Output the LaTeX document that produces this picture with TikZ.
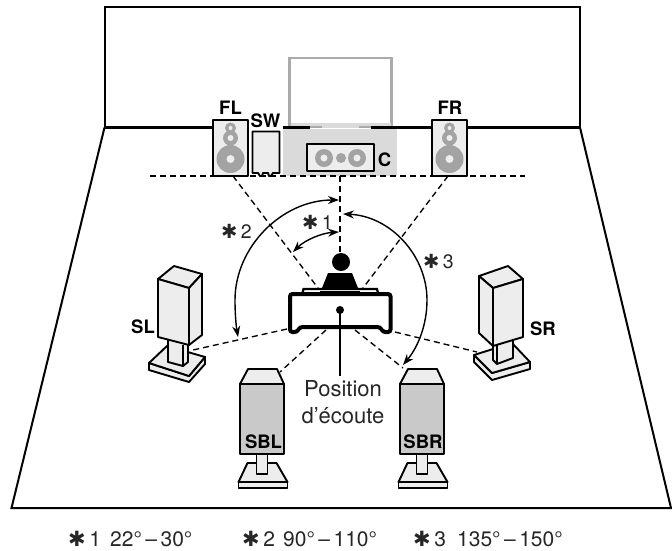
\documentclass[tikz,border=0pt]{standalone}
\usepackage{fontspec}
\setmainfont{TeX Gyre Heros}
\newfontfamily\asterfont{DejaVu Sans}
\usetikzlibrary{arrows.meta}
\newcommand{\aster}{{\asterfont ✱}}
\definecolor{facegray}{HTML}{EDEDED}
\definecolor{glyphgray}{HTML}{A3A3A3}
\definecolor{cabgray}{HTML}{DADADA}
\definecolor{midgray}{HTML}{C9C9C9}
\definecolor{framegray}{HTML}{ABABAB}
\definecolor{textgray}{HTML}{262626}
\tikzset{
  wall/.style={line width=2pt,black},
  box/.style={line width=1.9pt,black,line join=round,fill=facegray},
  dashline/.style={line width=1.35pt,dash pattern=on 6pt off 4pt},
  arcline/.style={line width=1.4pt,{Stealth[length=11pt,width=8pt]}-{Stealth[length=11pt,width=8pt]}},
  bold label/.style={font=\fontsize{18.5}{18.5}\selectfont\bfseries,inner sep=0pt,anchor=base},
  angle label/.style={font=\fontsize{19.5}{19.5}\selectfont,text=textgray,inner sep=0pt,anchor=base west},
  legend label/.style={font=\fontsize{21}{21}\selectfont,text=textgray,inner sep=0pt,anchor=base west}
}
\newcommand{\floorspk}[1]{%
  \begin{scope}[shift={(#1,0)}]
    \draw[box] (-17.5,120) rectangle (17.5,176);
    \fill[glyphgray] (0,159) circle (14pt) (0,138) circle (7.5pt) (0,128) circle (5.5pt);
    \fill[facegray] (0,159) circle (4pt) (0,138) circle (3pt) (0,128) circle (2pt);
  \end{scope}}
\newcommand{\rearspk}[1]{%
  \begin{scope}[shift={(#1,0)}]
    \draw[box] (-23.5,482) -- (-14.5,463) -- (14.5,463) -- (25.5,482) -- cycle;
    \draw[box] (-23.5,482) rectangle (25.5,488);
    \draw[box] (-5.5,450) rectangle (5.5,474);
    \draw[box] (-22,384) -- (-14,369) -- (15,369) -- (22,384) -- cycle;
    \draw[box,fill=midgray] (-22,384) rectangle (22,454);
  \end{scope}}
\begin{document}
\begin{tikzpicture}[x=1pt,y=-1pt]
\useasboundingbox (0,0) rectangle (672,550);
% room
\coordinate (wtl) at (104.5,6.5); \coordinate (wtr) at (580,6.5);
\coordinate (wbl) at (104.5,127.5); \coordinate (wbr) at (580,127.5);
\coordinate (fbl) at (11.5,508); \coordinate (fbr) at (671,508);
\draw[wall,line join=miter] (wbl) -- (wtl) -- (wtr) -- (wbr);
\draw[wall,line join=miter] (wbl) -- (fbl) -- (fbr) -- (wbr);
\draw[line width=2.4pt] (wbl) -- (wbr);
% TV and cabinet
\fill[white] (213,112) rectangle (467,129);
\draw[line width=2.6pt,framegray,fill=white] (289.5,58) rectangle (391.5,127);
\fill[cabgray] (290.5,122.5) rectangle (390.5,128);
\draw[line width=2.4pt] (283,127.5) -- (310,127.5);
\draw[line width=2.4pt] (371,127.5) -- (432,127.5);
\fill[framegray] (310,126) rectangle (322,128);
\fill[framegray] (359,126) rectangle (371,128);
\fill[cabgray] (283,128.5) rectangle (397,176);
\draw[box] (307,144) rectangle (374,171);
\fill[glyphgray] (324,158) circle (9pt) (341,158) circle (5pt) (357,158) circle (9pt);
\fill[facegray] (324,158) circle (3.5pt) (357,158) circle (3.5pt);
% front speakers
\floorspk{230.5}
\floorspk{449.5}
\draw[box] (252.5,131.5) -- (279.5,131.5) -- (279.5,173) -- (273,173) -- (271,176) -- (269,176) -- (268,173) -- (263,173) -- (262,176) -- (260,176) -- (258,173) -- (252.5,173) -- cycle;
% dashed geometry
\coordinate (base l) at (150,176); \coordinate (base r) at (525,176);
\coordinate (c top) at (340,176); \coordinate (c bot) at (340,256);
\coordinate (fl a) at (233,176); \coordinate (fl b) at (318,288);
\coordinate (fr a) at (448,176); \coordinate (fr b) at (363,288);
\coordinate (sl a) at (287,329); \coordinate (sl b) at (193,350);
\coordinate (sr a) at (395,332); \coordinate (sr b) at (477,352);
\coordinate (sbl a) at (326,330); \coordinate (sbl b) at (280,372);
\coordinate (sbr a) at (355,330); \coordinate (sbr b) at (403,368);
\draw[dashline] (base l) -- (base r);
\draw[dashline] (c top) -- (c bot);
\draw[dashline] (fl a) -- (fl b);
\draw[dashline] (fr a) -- (fr b);
\draw[dashline] (sl a) -- (sl b);
\draw[dashline] (sr a) -- (sr b);
\draw[dashline] (sbl a) -- (sbl b);
\draw[dashline] (sbr a) -- (sbr b);
% angle arcs
\draw[arcline] (339,232) .. controls (322,233) and (305,240) .. (293,252);
\draw[arcline] (339,200) .. controls (282,200) and (235,247) .. (235,300) .. controls (235,313) and (236,325) .. (238,337);
\draw[arcline] (343,214) .. controls (390,216) and (427,255) .. (427,300) .. controls (427,325) and (418,347) .. (403,365);
% listener
\fill (341,262) circle (9pt);
\fill (328,273) -- (352,273) -- (360,293) -- (320,293) -- cycle;
\draw[line width=2.2pt,fill=white] (302.5,293) -- (303.5,289) -- (377,289) -- (378,293);
\fill (320,291) rectangle (360,294);
\draw[line width=4pt,fill=white,rounded corners=2.5pt] (290,294) -- (290,332) -- (297,332) -- (300,327) -- (380,327) -- (383,332) -- (390.5,332) -- (390.5,294) -- cycle;
\fill (340,310) circle (4pt);
\coordinate (seat dot) at (340,310); \coordinate (pos end) at (340,376);
\draw[line width=1.8pt] (seat dot) -- (pos end);
% surround left
\draw[box] (149,363) -- (149,370) -- (189,382) -- (205,364) -- (205,357) -- (189,376) -- cycle;
\draw[box] (149,363) -- (167,346) -- (205,357) -- (189,376) -- cycle;
\draw[box] (168,340) -- (168,362) -- (183,366) -- (188,362) -- (188,340) -- cycle;
\draw[line width=1.9pt] (183,345) -- (183,366);
\draw[box] (158,279) -- (174,266) -- (202,274) -- (189,288) -- cycle;
\draw[box] (158,279) -- (189,288) -- (189,345) -- (158,337) -- cycle;
\draw[box] (189,288) -- (202,274) -- (202,335) -- (189,345) -- cycle;
% surround right
\draw[box] (474,355) -- (474,362) -- (492,380) -- (530,369) -- (530,362) -- (492,373) -- cycle;
\draw[box] (474,355) -- (512,343) -- (530,362) -- (492,373) -- cycle;
\draw[box] (493,340) -- (493,360) -- (497,364) -- (513,358) -- (513,338) -- cycle;
\draw[line width=1.9pt] (497,345) -- (497,364);
\draw[box] (479,276) -- (508,266) -- (523,279) -- (493,288) -- cycle;
\draw[box] (479,276) -- (493,288) -- (493,346) -- (479,333) -- cycle;
\draw[box] (493,288) -- (523,279) -- (523,337) -- (493,346) -- cycle;
% surround back
\rearspk{262}
\rearspk{422}
% labels
\node[bold label] (fl) at (230.5,114) {FL};
\node[bold label] (fr) at (450,114) {FR};
\node[bold label] (sw) at (265.5,127) {SW};
\node[bold label] (c) at (384.5,166) {C};
\node[bold label] (sl) at (143,333) {SL};
\node[bold label] (sr) at (543,335) {SR};
\node[bold label] (sbl) at (263.5,448) {SBL};
\node[bold label] (sbr) at (423,448) {SBR};
\node[font=\fontsize{22}{27}\selectfont,text=textgray,align=center,inner sep=0pt,anchor=center] (pos) at (343,402) {Position\\d’écoute};
\node[angle label] (a1) at (302,229) {\aster\,1};
\node[angle label] (a2) at (221,238) {\aster\,2};
\node[angle label] (a3) at (423,268) {\aster\,3};
\node[legend label] (l1) at (68,546) {\aster\,1};
\node[legend label] (v1) at (110,546) {22°\,–\,30°};
\node[legend label] (l2) at (242,546) {\aster\,2};
\node[legend label] (v2) at (283,546) {90°\,–\,110°};
\node[legend label] (l3) at (413,546) {\aster\,3};
\node[legend label] (v3) at (457,546) {135°\,–\,150°};
\end{tikzpicture}
\end{document}
